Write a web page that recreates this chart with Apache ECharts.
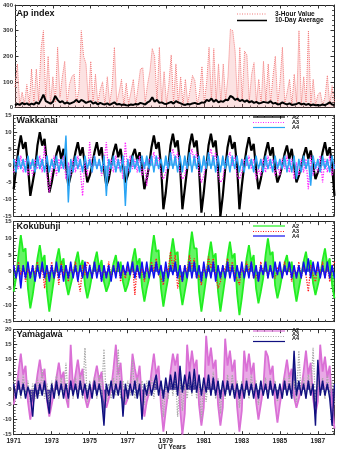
<!DOCTYPE html>
<html><head><meta charset="utf-8">
<script src="https://cdn.jsdelivr.net/npm/echarts@6/dist/echarts.min.js"></script>
<style>html,body{margin:0;padding:0;background:#fff}#c{width:337px;height:449px}</style>
</head><body><div id="c"></div>
<script>
// time grid: 1971.000 .. 1987.875, 8 samples per year
const startYear = 1971, step = 0.125;
const yearTicks = [1971,1973,1975,1977,1979,1981,1983,1985,1987];

// Ap index
const ap3h = [80,170,10,60,15,90,10,150, 20,150,25,230,300,30,200,15, 120,20,235,40,120,180,15,90,
  120,130,20,70,300,200,170,25, 180,20,130,15,70,100,10,120, 15,80,235,20,60,110,10,95,
  15,60,110,10,80,150,155,20, 90,140,230,200,25,235,20,140, 15,90,205,20,170,15,120,10,
  110,15,70,125,105,10,60,160, 20,100,235,30,230,25,170,20, 170,30,120,305,300,220,25,235,
  30,220,205,25,130,175,20,110, 15,180,25,170,20,120,200,15, 100,235,15,60,110,10,130,20,
  300,15,120,20,300,15,110,10, 50,60,10,40,125,10,85,20];
const ap10d = [8,14,10,18,12,16,10,15, 12,20,14,30,50,25,20,15, 22,45,30,20,25,15,20,14,
  18,22,30,20,30,25,18,22, 25,15,20,12,18,14,12,16, 10,15,20,12,14,10,12,9,
  8,12,10,14,12,18,15,12, 20,25,40,22,30,18,20,15, 14,18,22,15,25,20,16,12,
  10,14,12,16,18,14,15,20, 18,30,25,35,22,30,20,25, 22,30,28,45,40,30,35,25,
  30,22,28,20,25,18,22,16, 18,22,20,18,25,15,18,12, 14,20,15,12,16,10,12,14,
  18,12,15,10,14,8,12,9, 10,8,12,9,14,20,12,10];

// Wakkanai
const wakA2 = [-7,-1,5,9,5,7,0,-9, -5,-1,6,10,6,8,0,-8, -5,-1,3.5,6,2,5,0,-6, -3,0,4,7,3,5.5,0,-5,
  -3,0,4,7,3,5.5,-1,-6, -4,0,4,6.5,2.5,5,0,-5, -3,0,3,5,1.5,4,-1,-7, -4,0,5.5,9,5,7,0,-13,
  -8,-1,6,9.5,5.5,7.5,0,-13, -7,-1,6,9.5,5.5,7.5,-1,-14, -8,-1,6,9.5,5.5,7.5,-1,-15, -9,-1,5.5,9,5,7,0,-13,
  -6,0,5,8.5,4.5,6.5,-1,-7, -4,0,4,7,3,5.5,-1,-5, -3,0,3.5,6,2,5,0,-5, -3,0,3,5.5,2,4.5,0,-4,
  -2,0,4,7,3,5.5,0,-9];
const wakA3 = [-2,2,-1,3,-2,2,-3,1, -3,2,-1,3,-2,6,-3,-8, -2,3,-3,2,-1,3,-4,1, -3,2,-2,3,-1,-9,2,-3,
  7,-2,3,-1,2,-3,1,7, -3,2,-2,3,-1,2,-4,7, -2,3,-1,2,-2,3,-3,1, -6,2,1,4,0,3,-3,-4,
  -2,1,2,5,1,4,-2,-4, -3,1,2,5,1,4,-2,-5, -3,1,2,5,1,4,-3,-5, -4,1,2,4,0,3,-3,-4,
  -2,2,0,3,-1,2,-4,-1, -3,2,-2,3,-1,2,-3,1, -3,2,-1,3,-2,2,-4,1, -3,2,-2,2,-7,3,-3,1,
  -2,3,-5,2,-2,3,-3,1];
const wakA4 = [2,-2,3,-1,2,-2,3,-1, 2,-2,3,-1,2,-2,3,-2, 2,-1,3,-2,2,-1,9,-11, 2,-2,3,-1,2,-2,3,-1,
  2,-2,3,-1,2,-2,3,-9, 2,-1,3,-2,2,-2,3,-12, 2,-2,3,-1,2,-2,3,-1, 3,-1,3,-2,3,-1,2,-2,
  3,-1,4,-1,3,-2,3,-2, 3,-1,4,-2,3,-1,3,-2, 3,-1,4,-1,3,-2,3,-2, 3,-1,3,-2,3,-1,3,-2,
  2,-2,3,-1,2,-2,3,-1, 2,-2,3,-1,2,-2,3,-1, 2,-1,3,-2,2,-2,3,-4, 2,-2,3,-1,2,-6,3,-1,
  2,-2,3,-1,2,-2,3,-1];

// Kokubunji
const kokA2 = [-6,-2,5,11,6,7,-5,-11, -7,-2,4,8,3,5,-6,-12, -7,-2,3.5,7,2,4,-3.5,-7, -4,-1,3,6,1,3.5,-4,-8,
  -5,-1,3,6,1,3.5,-3,-6, -4,-1,2.5,5,0,3,-3,-6, -4,-1,3.5,7,2,4,-4.5,-9, -5,-2,5.5,11,6,6.5,-5,-10.5,
  -6,-2,5,10,5,6,-5,-10, -6,-2,6,12,7,7,-6,-12, -7,-2,4.5,9,4,5.5,-6,-12, -7,-2,4.5,9,4,5.5,-6.5,-13,
  -8,-2,4,8,3,5,-5,-9.5, -6,-2,5,10,5,6,-4,-8, -5,-1,2.5,5,0,3,-4.5,-9, -5,-1,3,6,1,3.5,-3.5,-7,
  -4,-1,3.5,7,2,4,-4,-8];
const kokA3 = [2,-2,3,-1,2,-3,1,-2, 2,-1,3,-2,2,-5,1,-2, 3,-2,2,-4,3,-1,2,-3, 2,-1,3,-2,-6,2,-1,3,
  2,-2,3,-1,2,-3,1,-2, 3,-2,2,-1,3,-3,1,-2, 2,-1,3,-7,2,-2,1,-3, 2,-1,3,0,4,-1,-2,-4,
  2,0,6,1,5,-5,-1,-3, 2,0,5,1,4,-2,-1,-4, 2,-1,4.5,1,4,-1,-5,-3, 2,0,4,0,3,-1,-2,-4,
  2,-1,3,0,3,-2,-1,-3, 3,-1,3,-2,2,-1,-2,1, 2,-2,3,-1,2,-3,1,-2, 3,-2,2,-1,-6,2,-1,-3,
  2,-1,3,-2,2,-3,1,3];
const kokA4 = [2,-2,2,-5,2,-2,3,-2, 2,-3,2,-2,3,-2,2,-3, 2,-2,3,-2,2,-3,2,-2, 3,-2,2,-3,2,-2,3,-2,
  2,-2,3,-2,2,-3,2,-2, 2,-3,2,-2,3,-2,2,-1, 3,-1,3,-2,2,-2,3,-2, 3,-2,2,-2,3,-1,2,-3,
  3,-2,2,-1,3,-2,2,-3, 2,-2,3,-2,3,-2,2,-3, 3,-2,2,-2,3,-3,2,-2, 2,-2,3,-2,2,-3,2,-2,
  3,-2,2,-2,3,-2,2,-3, 2,-1,3,-2,2,-2,3,-1, 3,-2,2,-1,3,-2,2,-2, 2,-2,3,-1,4,-2,3,-1,
  3,-2,2,-2,3,-2,2,-2];

// Yamagawa
const yamA2 = [-5,-1,6,12,5,8,-4,-10, -5,-1,5,10,4,7,-3.5,-9, -5,-1,4,9,3.5,6,-2.5,-6, 15,0,5,10,4,7,-2.5,-6,
  -3,0,4,8,3,6,-2.5,-6, -3,0,7,15,5,9,-2,-5, -3,0,12,7,3,8,-3.5,-9, -4,-1,6,12,5,8,-5.5,-14,
  -7,-1,6,12,8,12,-6,-15, -8,15,6,13,7,10,-5,-12, -6,18,8,14,7,10,-5,-12, -6,17,8,13,6,10,-5.5,-14,
  -7,13,6,12,5,9,-4,-10, -5,0,13,11,5,8,-4.5,-11, -5,0,5,10,4,7,-2.5,-6, -3,0,6,13,5,9,-3,-8,
  -4,15,6,11,4,8,-5,-13];
const yamA3 = [3,-2,4,-3,5,-2,3,-4, 2,-3,4,-2,7,-3,2,-4, 3,-2,5,-3,4,-2,9,-4, 3,-3,4,-2,5,-3,14,-4,
  3,-2,4,-3,5,-2,13.5,-4, 2,-3,4,-2,13.5,-3,3,-4, 3,-2,10,-3,4,-2,3,-5, 3,-2,4,-3,5,-2,3,-9,
  2,-3,5,-2,6,-9,3,-7, 2,-3,5,-2,6,-3,4,-10, 3,-4,5,-2,6,-3,4,-8, 3,-3,5,-2,5,-3,3,-6,
  3,-2,4,-3,5,-2,3,-5, 3,-2,4,-3,4,-2,3,-4, 2,-3,4,-2,5,-3,3,-4, 13,-2,4,-3,5,-2,14,-4,
  3,-2,4,-3,5,-2,3,-5];
const yamA4 = [2,-3,3,-2,2,-3,1,-2, -9,2,-3,2,-2,3,-3,-8, 2,-3,3,-2,2,-3,2,-3, 3,-2,2,-3,3,-2,2,-3,
  2,-3,3,-2,2,-3,-12,2, -2,3,-3,2,-2,3,-9,2, -3,2,-2,3,-3,2,-10,2, -2,3,-2,2,5,-2,3,-3,
  4,-1,5,0,6,-2,8,-1, 5,0,6,-1,7,-1,5,-2, 4,-1,5,-2,4,-2,3,-3, 3,-2,3,-2,2,-3,2,-3,
  2,-3,3,-2,2,-3,2,-3, 3,-2,2,-3,3,-2,2,-3, 2,-3,3,-2,2,-3,13,-2, 3,-2,2,-3,3,-2,2,-12,
  10,-2,3,-2,2,-3,-12,2];

const panels = [
  {title:'Ap index', top:5, height:102.5, min:0, max:400, interval:100, minor:5,
   series:[{name:'3-Hour Value', data:ap3h, color:'#f27a7a', type:'dotted', w:1, area:0.22},
           {name:'10-Day Average', data:ap10d, color:'#000000', type:'solid', w:2, area:0}]},
  {title:'Wakkanai', top:115.3, height:100.7, min:-15, max:15, interval:5, minor:5,
   series:[{name:'A2', data:wakA2, color:'#000000', type:'solid', w:2.2, area:0},
           {name:'A3', data:wakA3, color:'#ff22ff', type:'dotted', w:1.3, area:0},
           {name:'A4', data:wakA4, color:'#2aa4f4', type:'solid', w:1.4, area:0.75}]},
  {title:'Kokubunji', top:221.7, height:100, min:-15, max:15, interval:5, minor:5,
   series:[{name:'A2', data:kokA2, color:'#22ee22', type:'solid', w:1.8, area:0.7},
           {name:'A3', data:kokA3, color:'#ff1a1a', type:'dotted', w:1.3, area:0},
           {name:'A4', data:kokA4, color:'#1010ee', type:'solid', w:1.4, area:0.75}]},
  {title:'Yamagawa', top:329.7, height:105, min:-15, max:20, interval:5, minor:5,
   series:[{name:'A2', data:yamA2, color:'#da70d6', type:'solid', w:1.8, area:0.6},
           {name:'A3', data:yamA3, color:'#a8a8a8', type:'dotted', w:1.3, area:0},
           {name:'A4', data:yamA4, color:'#101080', type:'solid', w:1.4, area:0.75}]}
];

const legendPos = [
  {x1:237, x2:267, tx:275, ys:[14,20.5], tys:[14,20.5], font:'bold 6.5px "Liberation Sans", Arial, sans-serif'},
  {x1:253, x2:285, tx:292, ys:[117,122.5,127.5], tys:[117,122,127], font:'bold 5.5px "Liberation Sans", Arial, sans-serif'},
  {x1:253, x2:285, tx:292, ys:[226,231.5,236], tys:[226,231,236], font:'bold 5.5px "Liberation Sans", Arial, sans-serif'},
  {x1:253, x2:285, tx:292, ys:[331,336.5,341.5], tys:[330.5,334.5,338.5], font:'bold 5.5px "Liberation Sans", Arial, sans-serif'}
];
const titleY = [13.5, 120.5, 226.5, 335];

const XMIN = 1971, XMAX = 1987.85;
const lblFont = {fontSize:6, fontWeight:'bold', color:'#333', fontFamily:'"Liberation Sans", Arial, sans-serif'};

const grid = [], xAxis = [], yAxis = [], series = [], graphic = [];
panels.forEach((p, k) => {
  grid.push({left:11, right:3, top:p.top, height:p.height, containLabel:false});
  const isLast = k === panels.length - 1;
  const xCommon = {type:'value', gridIndex:k, min:XMIN, max:XMAX, interval:2,
    axisLine:{show:true, onZero:false, lineStyle:{color:'#222', width:1}},
    axisTick:{show:true, inside:true, length:3.5, lineStyle:{color:'#333'}},
    minorTick:{show:true, splitNumber:5, length:2, lineStyle:{color:'#555'}},
    splitLine:{show:false}};
  xAxis.push(Object.assign({}, xCommon, {position:'bottom',
    axisLabel:{show:isLast, margin:3, fontSize:6.5, fontWeight:'bold', color:'#222',
      fontFamily:'"Liberation Sans", Arial, sans-serif',
      formatter: v => (yearTicks.includes(Math.round(v*1000)/1000) ? String(Math.round(v)) : '')}}));
  xAxis.push(Object.assign({}, xCommon, {position:'top', axisLabel:{show:false}}));
  const yCommon = {type:'value', gridIndex:k, min:p.min, max:p.max, interval:p.interval,
    axisLine:{show:true, onZero:false, lineStyle:{color:'#222', width:1}},
    axisTick:{show:true, inside:true, length:3.5, lineStyle:{color:'#333'}},
    minorTick:{show:true, splitNumber:p.minor, length:2, lineStyle:{color:'#555'}},
    splitLine:{show:false}};
  yAxis.push(Object.assign({}, yCommon, {position:'left',
    axisLabel:Object.assign({show:true, margin:2}, lblFont)}));
  yAxis.push(Object.assign({}, yCommon, {position:'right', axisLabel:{show:false}}));

  p.series.forEach(s => {
    const ser = {type:'line', name:s.name, xAxisIndex:2*k, yAxisIndex:2*k,
      data: s.data.map((v,i) => [startYear + i*step, v]),
      showSymbol:false, symbol:'none', animation:false, clip:true, sampling:null,
      lineStyle:{color:s.color, width:s.w, type:s.type}, z:2};
    if (s.area > 0) ser.areaStyle = {color:s.color, opacity:s.area, origin:0};
    series.push(ser);
  });

  graphic.push({type:'text', x:16.5, y:titleY[k], z:10,
    style:{text:p.title, font:'bold 9px "Liberation Sans", Arial, sans-serif', fill:'#111', textVerticalAlign:'middle'}});
  const L = legendPos[k];
  p.series.forEach((s, j) => {
    const dash = s.type === 'dotted' ? [1,1.5] : (s.type === 'dashed' ? [3,2] : null);
    graphic.push({type:'line', z:10, shape:{x1:L.x1, y1:L.ys[j], x2:L.x2, y2:L.ys[j]},
      style:{stroke:s.color, lineWidth: k===0 && j===1 ? 1.5 : 1.2, lineDash:dash}});
    graphic.push({type:'text', z:10, x:L.tx, y:L.tys[j],
      style:{text:s.name, font:L.font, fill:'#111', textVerticalAlign:'middle'}});
  });
});
graphic.push({type:'text', z:10, x:172, y:447.5,
  style:{text:'UT Years', font:'bold 6.5px "Liberation Sans", Arial, sans-serif', fill:'#222', textAlign:'center', textVerticalAlign:'middle'}});

const chart = echarts.init(document.getElementById('c'), null, {renderer:'canvas'});
chart.setOption({animation:false, backgroundColor:'#fff', grid, xAxis, yAxis, series, graphic});
</script>
</body></html>
